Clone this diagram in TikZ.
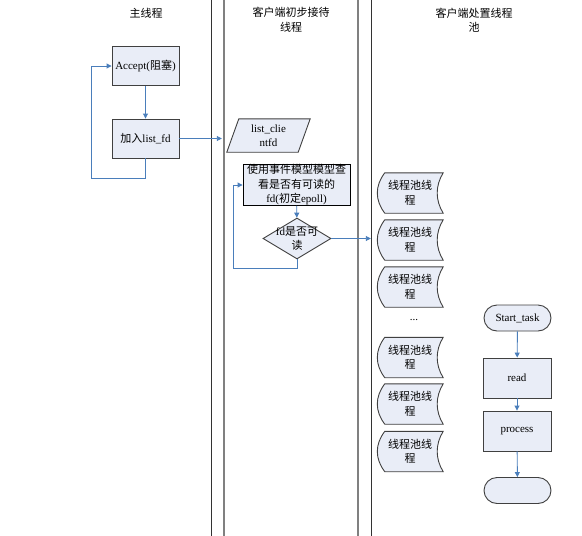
\documentclass[tikz,border=0pt]{standalone}
\usepackage{fontspec}
\setmainfont{Liberation Serif}
\newfontfamily\cjk{Noto Sans CJK SC}
\usetikzlibrary{positioning, arrows.meta, shapes.geometric, backgrounds}
\definecolor{boxfill}{RGB}{233,237,247}
\definecolor{flowblue}{RGB}{74,126,187}
\definecolor{lanegray}{RGB}{128,128,128}

\begin{document}
\begin{tikzpicture}[x=1pt, y=-1pt,
  font=\fontsize{11}{14.5}\selectfont,
  edge/.style={draw=black!75, line width=0.9pt},
  box/.style={edge, fill=boxfill, minimum width=67, minimum height=39,
    inner sep=1pt, align=center},
  bare/.style={minimum width=66, minimum height=40, inner sep=0pt, align=center},
  flow/.style={flowblue, line width=0.9pt, -{Triangle[length=5pt,width=5pt]}}]
\useasboundingbox (0,0) rectangle (582,536);

% draw lane lines
\foreach \x in {211,371}
\draw[line width=0.8pt, black!80] (\x,0) -- (\x,536);
\foreach \x in {224,358}
\draw[line width=1.6pt, lanegray] (\x,0) -- (\x,536);

% lane titles
\node (main) at (146,13) {{\cjk 主线程}};
\node[align=center] (recv) at (291,20) {{\cjk 客户端初步接待}\\{\cjk 线程}};
\node[align=center] (pool) at (474,20) {{\cjk 客户端处置线程}\\{\cjk 池}};

% main thread
\node[box] (acc) at (145.5,66) {Accept({\cjk 阻塞})};
\node[box] (add) at (145.5,138.5) {{\cjk 加入}list\_fd};
\draw[flow] (acc) -- (add);
\draw[flow] (add.south) -- ++(0,20) -- ++(-54,0) |- (acc.west);

% receiving thread
\node[bare, minimum width=83, minimum height=33] (lst) at (268.5,135.5) {list\_clie\\ntfd};
\begin{scope}[on background layer]
\draw[edge, fill=boxfill] ([xshift=12pt]lst.north west) -- (lst.north east)
  -- ([xshift=-12pt]lst.south east) -- (lst.south west) -- cycle;
\end{scope}
\draw[flow, shorten >=5pt] (add.east) -- (add.east -| lst.west);

\node[box, draw=black, minimum width=107, minimum height=40, inner sep=0pt]
  (evt) at (296.5,185) {{\cjk 使用事件模型模型查}\\{\cjk 看是否有可读的}\\fd({\cjk 初定}epoll)};
\node[diamond, edge, fill=boxfill, minimum width=68, minimum height=41, inner sep=0pt]
  (chk) at (297,238.5) {};
\node[align=center] (chktext) at (chk) {fd{\cjk 是否可}\\{\cjk 读}};
\draw[flow] (evt) -- (chk);
\draw[flow] (chk.south) -- ++(0,9) -- ++(-64,0) |- (evt.west);

% thread pool
\foreach \i/\y in {1/193,2/240,3/287,4/357.5,5/404,6/451.5}{
  \node[bare] (p\i) at (410,\y) {{\cjk 线程池线}\\{\cjk 程}};
  \begin{scope}[on background layer]
  \draw[edge, fill=boxfill] ([xshift=8pt]p\i.north west) -- (p\i.north east)
    .. controls +(-8,13) and +(-8,-13) .. (p\i.south east)
    -- ([xshift=8pt]p\i.south west)
    .. controls +(-10,-13) and +(-10,13) .. ([xshift=8pt]p\i.north west) -- cycle;
  \end{scope}
}
\node (dots) at (414,320) {...};
\draw[flow, shorten >=6pt] (chk.east) -- (chk.east -| p2.west);

% task steps
\node[box, rounded corners=13, minimum height=26] (st) at (517.5,318) {Start\_task};
\node[box, minimum width=68, minimum height=40] (rd) at (517,378) {read};
\node[box, minimum width=68, minimum height=40] (pr) at (517,431) {process};
\node[box, rounded corners=13, minimum height=26] (ed) at (517.5,490.5) {};
\draw[flow] (st) -- (rd);
\draw[flow] (rd) -- (pr);
\draw[flow] (pr) -- (ed);
\end{tikzpicture}
\end{document}
